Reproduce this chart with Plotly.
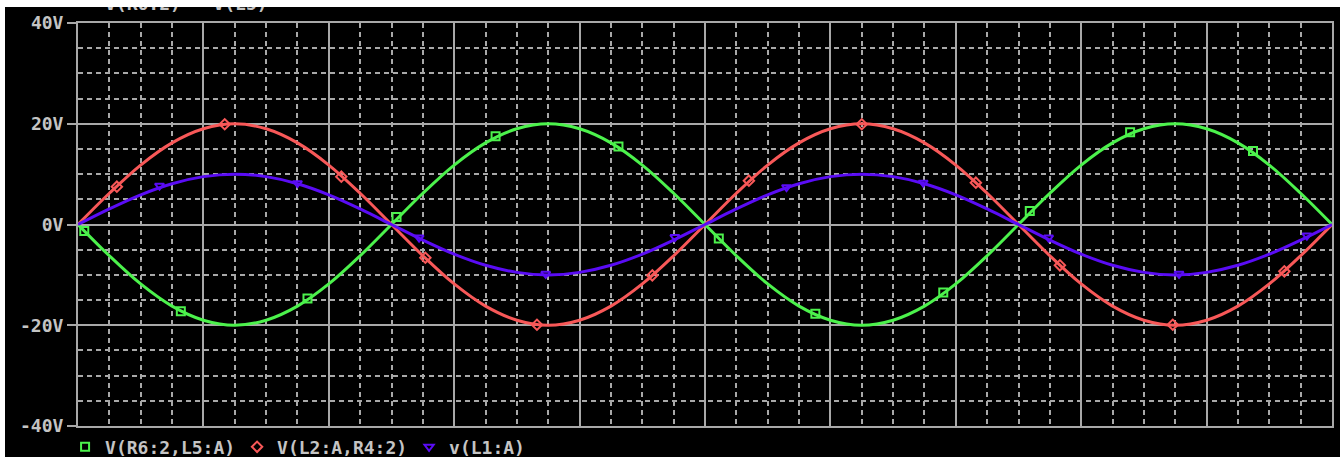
import plotly.graph_objects as go

# ---- data (time axis in divisions, values in volts) ----
t = [0.0, 0.25, 0.5, 0.75, 1.0, 1.25, 1.5, 1.75, 2.0, 2.25, 2.5, 2.75, 3.0, 3.25, 3.5,
     3.75, 4.0, 4.25, 4.5, 4.75, 5.0, 5.25, 5.5, 5.75, 6.0, 6.25, 6.5, 6.75, 7.0, 7.25,
     7.5, 7.75, 8.0, 8.25, 8.5, 8.75, 9.0, 9.25, 9.5, 9.75, 10.0]

v_r6_l5 = [0.0, -6.2, -11.8, -16.2, -19.0, -20.0, -19.0, -16.2, -11.8, -6.2, 0.0,
           6.2, 11.8, 16.2, 19.0, 20.0, 19.0, 16.2, 11.8, 6.2, 0.0,
           -6.2, -11.8, -16.2, -19.0, -20.0, -19.0, -16.2, -11.8, -6.2, 0.0,
           6.2, 11.8, 16.2, 19.0, 20.0, 19.0, 16.2, 11.8, 6.2, 0.0]

v_l2_r4 = [0.0, 6.2, 11.8, 16.2, 19.0, 20.0, 19.0, 16.2, 11.8, 6.2, 0.0,
           -6.2, -11.8, -16.2, -19.0, -20.0, -19.0, -16.2, -11.8, -6.2, 0.0,
           6.2, 11.8, 16.2, 19.0, 20.0, 19.0, 16.2, 11.8, 6.2, 0.0,
           -6.2, -11.8, -16.2, -19.0, -20.0, -19.0, -16.2, -11.8, -6.2, 0.0]

v_l1 = [0.0, 3.1, 5.9, 8.1, 9.5, 10.0, 9.5, 8.1, 5.9, 3.1, 0.0,
        -3.1, -5.9, -8.1, -9.5, -10.0, -9.5, -8.1, -5.9, -3.1, 0.0,
        3.1, 5.9, 8.1, 9.5, 10.0, 9.5, 8.1, 5.9, 3.1, 0.0,
        -3.1, -5.9, -8.1, -9.5, -10.0, -9.5, -8.1, -5.9, -3.1, 0.0]

# marker positions on each curve
mk_green_t = [0.05, 0.82, 1.83, 2.54, 3.33, 4.31, 5.11, 5.88, 6.90, 7.59, 8.39, 9.37]
mk_green_v = [-1.3, -17.2, -14.7, 1.5, 17.5, 15.5, -2.8, -17.7, -13.5, 2.7, 18.3, 14.6]
mk_red_t = [0.31, 1.17, 2.10, 2.77, 3.66, 4.58, 5.35, 6.25, 7.16, 7.83, 8.73, 9.62]
mk_red_v = [7.5, 19.9, 9.5, -6.6, -19.9, -10.1, 8.7, 19.9, 8.3, -8.1, -19.9, -9.3]
mk_blue_t = [0.65, 1.75, 2.72, 3.73, 4.76, 5.65, 6.74, 7.74, 8.78, 9.80]
mk_blue_v = [7.7, 8.2, -2.6, -9.8, -2.5, 7.4, 8.3, -2.6, -9.8, -2.2]

names = ["V(R6:2,L5:A)", "V(L2:A,R4:2)", "v(L1:A)"]
y_ticks = [40, 20, 0, -20, -40]
y_ticktext = ["40V", "20V", "0V", "-20V", "-40V"]

GREEN = "#4cf24c"
RED = "#f85858"
BLUE = "#5a0cf5"
GRID = "#a8a8a8"
TXT = "#c4c4c4"
FONT = "DejaVu Sans Mono"
FS = 18

fig = go.Figure()

series = [
    (v_r6_l5, mk_green_t, mk_green_v, GREEN, "square-open", names[0]),
    (v_l2_r4, mk_red_t, mk_red_v, RED, "diamond-open", names[1]),
    (v_l1, mk_blue_t, mk_blue_v, BLUE, "triangle-down-open", names[2]),
]

for vals, mt, mv, col, sym, nm in series:
    fig.add_trace(go.Scatter(x=t, y=vals, mode="lines", line=dict(color=col, width=3, shape="spline"),
                             showlegend=False, hoverinfo="skip"))
for vals, mt, mv, col, sym, nm in series:
    fig.add_trace(go.Scatter(x=mt, y=mv, mode="markers", name=nm,
                             marker=dict(symbol=sym, color=col, size=8, line=dict(color=col, width=2)),
                             showlegend=True))

fig.update_layout(
    width=1335, height=450,
    margin=dict(l=73, r=8, t=16, b=31, autoexpand=False),
    paper_bgcolor="black", plot_bgcolor="black",
    font=dict(family=FONT, size=FS, color=TXT, weight="bold"),
    xaxis=dict(range=[0, 10], dtick=1, tick0=0, showticklabels=False, ticks="",
               showgrid=True, gridcolor=GRID, gridwidth=2, zeroline=False,
               showline=True, linecolor=GRID, linewidth=2, mirror=True,
               minor=dict(dtick=0.25, tick0=0, showgrid=True, gridcolor=GRID, gridwidth=1.5,
                          griddash="5px,4px")),
    yaxis=dict(range=[-40, 40], tickvals=y_ticks, ticktext=y_ticktext,
               ticks="outside", ticklen=9, tickwidth=2, tickcolor=GRID,
               showgrid=True, gridcolor=GRID, gridwidth=2, zeroline=False,
               showline=True, linecolor=GRID, linewidth=2, mirror=True,
               tickfont=dict(family=FONT, size=FS, color=TXT, weight="bold"),
               minor=dict(dtick=5, tick0=0, showgrid=True, gridcolor=GRID, gridwidth=1.5,
                          griddash="5px,4px")),
    legend=dict(orientation="h", xref="container", yref="container",
                x=0.045, y=0.022, xanchor="left", yanchor="middle",
                bgcolor="rgba(0,0,0,0)", entrywidth=127, entrywidthmode="pixels",
                font=dict(family=FONT, size=FS, color=TXT, weight="bold"),
                itemwidth=30),
    annotations=[dict(text="V(R6:2) - V(L5)", xref="paper", yref="paper",
                      x=(98 - 73) / 1254, y=1 + 16 / 403, xanchor="left", yanchor="middle", yshift=4,
                      showarrow=False, font=dict(family=FONT, size=FS, color=TXT, weight="bold"))],
)

fig.write_html("out.html",
               post_script="document.body.style.margin='7px 0 0 5px';document.body.style.overflow='hidden';")
